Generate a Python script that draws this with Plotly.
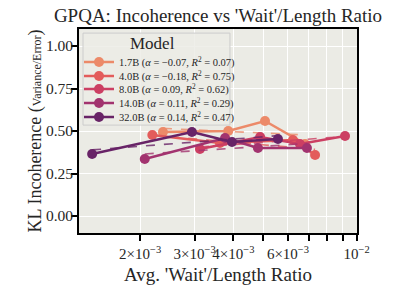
import numpy as np
import plotly.graph_objects as go

models = ["1.7B", "4.0B", "8.0B", "14.0B", "32.0B"]
alphas = ["−0.07", "−0.18", "0.09", "0.11", "0.14"]
r2s = ["0.07", "0.75", "0.62", "0.29", "0.47"]
colors = ["#ec8a69", "#e35c5b", "#cc3f63", "#a2336f", "#682367"]

x_17 = [0.00237, 0.00385, 0.00506, 0.00681]
y_17 = [0.494, 0.500, 0.559, 0.424]
x_40 = [0.00219, 0.00362, 0.00623, 0.00734]
y_40 = [0.476, 0.429, 0.447, 0.359]
x_80 = [0.00312, 0.00488, 0.00656, 0.00917]
y_80 = [0.394, 0.465, 0.424, 0.471]
x_140 = [0.00207, 0.00376, 0.00480, 0.00691]
y_140 = [0.335, 0.459, 0.400, 0.400]
x_320 = [0.00140, 0.00294, 0.00396, 0.00557]
y_320 = [0.365, 0.494, 0.435, 0.453]

xs = [x_17, x_40, x_80, x_140, x_320]
ys = [y_17, y_40, y_80, y_140, y_320]

x_tickvals = [0.002, 0.003, 0.004, 0.006, 0.01]
x_ticktext = ["2×10<sup>−3</sup>", "3×10<sup>−3</sup>", "4×10<sup>−3</sup>",
              "6×10<sup>−3</sup>", "10<sup>−2</sup>"]
x_minorvals = [0.005, 0.007, 0.008, 0.009]
y_tickvals = [0.0, 0.25, 0.5, 0.75, 1.0]
y_ticktext = ["0.00", "0.25", "0.50", "0.75", "1.00"]

FONT = "Liberation Serif"
TXT = "#262626"
W, H = 398, 294
fig = go.Figure()

legend_ids = ["legend", "legend2", "legend3", "legend4", "legend5"]
legend_y = [0.838, 0.770, 0.706, 0.637, 0.569]

for i, (m, a, r, c, x, y) in enumerate(zip(models, alphas, r2s, colors, xs, ys)):
    name = f"{m} (<i>α</i> = {a}, <i>R</i><sup>2</sup> = {r})"
    fig.add_trace(go.Scatter(
        x=x, y=y, mode="lines+markers", name=name,
        line=dict(color=c, width=2.5),
        marker=dict(color=c, size=10),
        legend=legend_ids[i],
    ))
    lx = np.log10(np.array(x))
    k, b = np.polyfit(lx, np.array(y), 1)
    xf = np.array([min(x), max(x)])
    fig.add_trace(go.Scatter(
        x=xf, y=k * np.log10(xf) + b, mode="lines", showlegend=False,
        line=dict(color=c, width=1.6, dash="dash"), opacity=0.8,
        hoverinfo="skip",
    ))

leg_layout = {}
for lid, ly in zip(legend_ids, legend_y):
    leg_layout[lid] = dict(
        x=0.0, y=ly, xanchor="left", yanchor="middle",
        bgcolor="rgba(0,0,0,0)", borderwidth=0,
        font=dict(size=10.5, family=FONT, color=TXT),
        itemwidth=30,
    )

fig.update_layout(
    width=W, height=H,
    margin=dict(l=79, r=41, t=29, b=61),
    paper_bgcolor="white",
    plot_bgcolor="#ebebe5",
    font=dict(family=FONT, color=TXT, size=14),
    title=dict(text="GPQA: Incoherence vs 'Wait'/Length Ratio",
               x=0.5, xref="paper", xanchor="center",
               y=1 - 15 / H, yref="container", yanchor="middle",
               font=dict(size=19, family=FONT, color=TXT)),
    showlegend=True,
    shapes=[dict(type="rect", xref="paper", yref="paper",
                 x0=0.0144, x1=0.543, y0=0.529, y1=0.980,
                 fillcolor="rgba(235,235,229,0.82)",
                 line=dict(color="#cccccc", width=1), layer="above")],
    annotations=[dict(text="Model", xref="paper", yref="paper",
                      x=0.266, y=0.931, xanchor="center", yanchor="middle",
                      showarrow=False, font=dict(size=17, family=FONT, color=TXT))],
    **leg_layout,
)

fig.update_xaxes(
    type="log", range=[np.log10(0.00127), -1.999],
    tickmode="array", tickvals=x_tickvals, ticktext=x_ticktext, tickangle=0,
    ticks="outside", ticklen=6, tickwidth=1.5, tickcolor="black",
    minor=dict(tickmode="array", tickvals=x_minorvals, ticks="outside",
               ticklen=6, tickwidth=1.5, tickcolor="black",
               showgrid=True, gridcolor="white", gridwidth=1),
    showline=True, linecolor="black", linewidth=1.8, mirror=True,
    showgrid=True, gridcolor="white", gridwidth=1,
    zeroline=False, automargin=False,
    tickfont=dict(size=15, family=FONT),
    title=dict(text="Avg. 'Wait'/Length Ratio", font=dict(size=19, family=FONT), standoff=7),
)
fig.update_yaxes(
    range=[-0.1, 1.1],
    tickmode="array", tickvals=y_tickvals, ticktext=y_ticktext,
    ticks="outside", ticklen=6, tickwidth=1.5, tickcolor="black",
    ticklabelstandoff=-5,
    showline=True, linecolor="black", linewidth=1.8, mirror=True,
    showgrid=True, gridcolor="white", gridwidth=1,
    zeroline=False, automargin=False,
    tickfont=dict(size=15.5, family=FONT),
    title=dict(text="KL Incoherence (<span style='font-size:12px'>Variance/Error</span>)",
               font=dict(size=18, family=FONT), standoff=0),
)

fig.write_html("out.html", config={"displayModeBar": False},
               post_script="document.body.style.margin='0';")
